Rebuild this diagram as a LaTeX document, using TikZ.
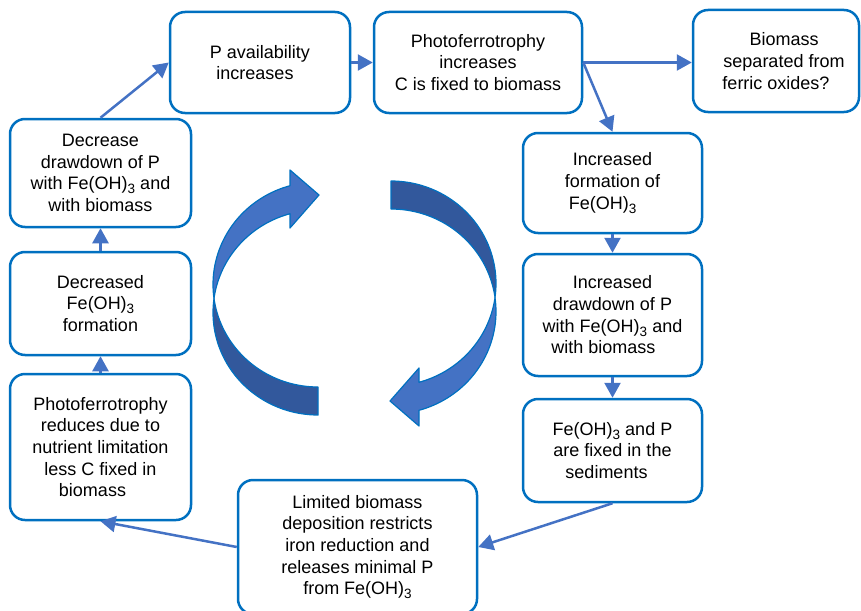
\documentclass[tikz,border=0pt]{standalone}
\usepackage{fontspec}
\setmainfont{Liberation Sans}
\definecolor{boxblue}{RGB}{0,112,192}
\definecolor{arrowblue}{RGB}{68,114,196}
\definecolor{cyclelight}{RGB}{68,114,196}
\definecolor{cycledark}{RGB}{50,88,156}
\usetikzlibrary{arrows.meta,positioning}
\newcommand{\feoh}{Fe(OH)\raisebox{-4pt}{\fontsize{13.5}{13.5}\selectfont 3}}
% one half of the central cycle (tail behind, head in front)
\newcommand{\cyclehalf}{%
  \filldraw[fill=cycledark, draw=boxblue, line width=1.2pt, line join=round]
    plot[domain=187.85:90, samples=40] ({318+105*cos(\x)}, {312.5+102.5*sin(\x)})
    -- plot[domain=90:172.15, samples=40] ({318+105*cos(\x)}, {284.5+102.5*sin(\x)}) -- cycle;
  \filldraw[fill=cyclelight, draw=boxblue, line width=1.2pt, line join=round]
    plot[domain=172.15:254.53, samples=40] ({318+105*cos(\x)}, {284.5+102.5*sin(\x)})
    -- (290,170) -- (319,195) -- (290,228)
    -- plot[domain=254.53:187.85, samples=40] ({318+105*cos(\x)}, {312.5+102.5*sin(\x)}) -- cycle;}

\begin{document}
\begin{tikzpicture}[x=1pt, y=-1pt,
  stage/.style={draw=boxblue, line width=2.5pt, rounded corners=15pt, fill=white,
    align=center, inner sep=0pt, font=\fontsize{18}{21.7}\selectfont},
  flow/.style={draw=arrowblue, line width=2.5pt, -{Triangle[length=15pt,width=16pt]}}]
  \useasboundingbox (0,0) rectangle (861,610);
  \clip (0,0) rectangle (861,610);

  % Central cycle arrows
  \cyclehalf
  \begin{scope}[rotate around={180:(354.5,298)}]
    \cyclehalf
  \end{scope}

  % Top row
  \node[stage, minimum width=180pt, minimum height=101pt] (pavail) at (260,62.5) {P availability\\increases\hspace*{10pt}};
  \node[stage, minimum width=208pt, minimum height=101pt] (photo) at (478,62.5) {Photoferrotrophy\\increases\\C is fixed to biomass};
  \node[stage, minimum width=166pt, minimum height=102pt] (biomass) at (776,61) {\hspace*{16pt}Biomass\\\hspace*{16pt}separated from\\ferric oxides?};

  % Right column
  \node[stage, minimum width=179pt, minimum height=100pt] (incform) at (612.5,183) {Increased\\formation of\\\feoh\hspace*{20pt}};
  \node[stage, minimum width=179pt, minimum height=122pt] (incdraw) at (612.5,315) {Increased\\drawdown of P\\with \feoh{} and\\with biomass\hspace*{18pt}};
  \node[stage, minimum width=179pt, minimum height=103pt] (fixed) at (612.5,450.5) {\feoh{} and P\\are fixed in the\\sediments\hspace*{12pt}};

  % Bottom
  \node[stage, minimum width=239pt, minimum height=134pt] (limited) at (357.5,547) {Limited biomass\\deposition restricts\\iron reduction and\\releases minimal P\\from \feoh};

  % Left column
  \node[stage, minimum width=181pt, minimum height=146pt] (reduces) at (100.5,447) {Photoferrotrophy\\reduces due to\\nutrient limitation\\less C fixed in\\biomass\hspace*{16pt}};
  \node[stage, minimum width=181pt, minimum height=103pt] (decreased) at (100.5,303.5) {Decreased\\\feoh\\formation};
  \node[stage, minimum width=181pt, minimum height=108pt] (decdraw) at (100.5,173) {Decrease\\drawdown of P\\with \feoh{} and\\with biomass};

  % Connectors
  \draw[flow] (decdraw.north) -- (pavail.west);
  \draw[flow] (pavail.east) -- (photo.west);
  \draw[flow] (photo.east) -- (photo.east -| biomass.west);
  \draw[flow] (photo.east) -- (incform.north);
  \draw[flow] (incform.south) -- (incdraw.north);
  \draw[flow] (incdraw.south) -- (fixed.north);
  \draw[flow] (fixed.south) -- (limited.east);
  \draw[flow] (limited.west) -- (reduces.south);
  \draw[flow] (reduces.north) -- (decreased.south);
  \draw[flow] (decreased.north) -- (decdraw.south);
\end{tikzpicture}
\end{document}
